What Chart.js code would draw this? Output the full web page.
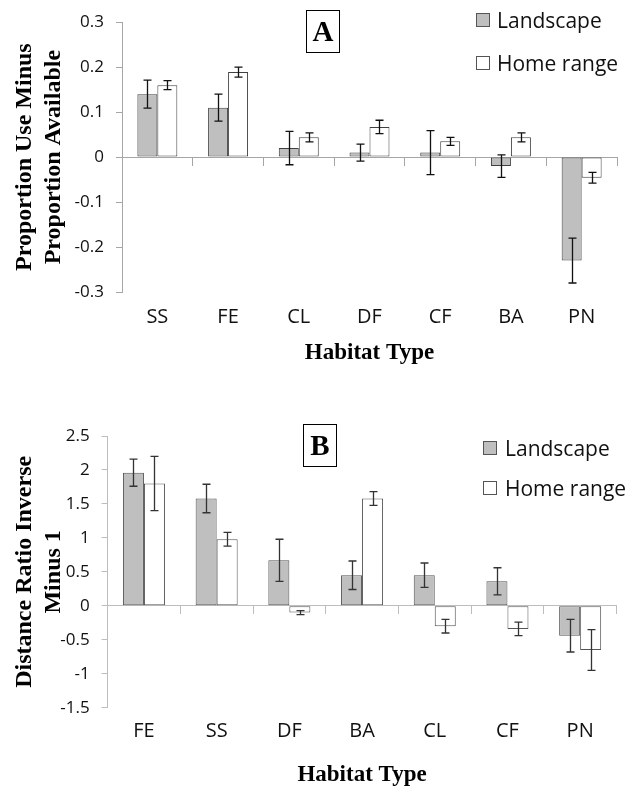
<!DOCTYPE html>
<html>
<head>
<meta charset="utf-8">
<script src="https://cdn.jsdelivr.net/npm/chart.js@4.4.1/dist/chart.umd.min.js"></script>
<style>
  body { margin: 0; background: #fff; }
  #page { position: relative; width: 631px; height: 789px; overflow: hidden; }
  canvas { position: absolute; left: 0; }
  .panel { position: absolute; box-sizing: border-box; width: 34px; height: 43px; border: 1.5px solid #000;
           font: bold 29px "Liberation Serif"; text-align: center; line-height: 40px; color: #000; }
  .sw { position: absolute; box-sizing: border-box; width: 14px; height: 14px; border: 1px solid #555; }
  .lt { position: absolute; font: 21px "Open Sans"; color: #111; line-height: 24px; white-space: nowrap; }
</style>
</head>
<body>
<div id="page">
  <canvas id="chartA" width="631" height="380" style="top:0"></canvas>
  <canvas id="chartB" width="631" height="409" style="top:380px"></canvas>
  <div class="panel" style="left:306px;top:10px">A</div>
  <div class="panel" style="left:303px;top:424px">B</div>
</div>
<script>
// Series names
const seriesNames = ["Landscape", "Home range"];

// Panel A
const categoriesA = ["SS", "FE", "CL", "DF", "CF", "BA", "PN"];
const landscapeA = [0.14, 0.11, 0.02, 0.01, 0.01, -0.02, -0.23];
const landscapeErrA = [0.031, 0.03, 0.037, 0.019, 0.049, 0.025, 0.05];
const homeRangeA = [0.16, 0.189, 0.044, 0.067, 0.035, 0.044, -0.046];
const homeRangeErrA = [0.01, 0.011, 0.01, 0.015, 0.009, 0.01, 0.012];
const yTicksA = [-0.3, -0.2, -0.1, 0, 0.1, 0.2, 0.3];
const yTickLabelsA = ["-0.3", "-0.2", "-0.1", "0", "0.1", "0.2", "0.3"];

// Panel B
const categoriesB = ["FE", "SS", "DF", "BA", "CL", "CF", "PN"];
const landscapeB = [1.96, 1.58, 0.67, 0.45, 0.45, 0.36, -0.44];
const landscapeErrB = [0.2, 0.21, 0.31, 0.21, 0.18, 0.2, 0.24];
const homeRangeB = [1.8, 0.98, -0.1, 1.58, -0.3, -0.34, -0.65];
const homeRangeErrB = [0.4, 0.1, 0.03, 0.1, 0.1, 0.1, 0.3];
const yTicksB = [-1.5, -1, -0.5, 0, 0.5, 1, 1.5, 2, 2.5];
const yTickLabelsB = ["-1.5", "-1", "-0.5", "0", "0.5", "1", "1.5", "2", "2.5"];

const fillColors = ["#bfbfbf", "#ffffff"];

// dibuja barras de error a partir de dataset.errors
const errorBars = {
  id: "errorBars",
  afterDatasetsDraw(chart, args, opts) {
    const ctx = chart.ctx;
    const y = chart.scales.y;
    ctx.save();
    ctx.strokeStyle = opts.color;
    ctx.lineWidth = opts.width;
    chart.data.datasets.forEach((ds, i) => {
      chart.getDatasetMeta(i).data.forEach((bar, j) => {
        const v = ds.data[j], e = ds.errors[j];
        const top = y.getPixelForValue(v + e);
        const bot = y.getPixelForValue(v - e);
        const x = Math.round(bar.x) + 0.5;
        ctx.beginPath();
        ctx.moveTo(x, top); ctx.lineTo(x, bot);
        ctx.moveTo(x - opts.cap, top); ctx.lineTo(x + opts.cap, top);
        ctx.moveTo(x - opts.cap, bot); ctx.lineTo(x + opts.cap, bot);
        ctx.stroke();
      });
    });
    ctx.restore();
  }
};

function makeChart(id, s) {
  return new Chart(document.getElementById(id), {
    type: "bar",
    plugins: [errorBars],
    data: {
      labels: s.categories,
      datasets: [
        { label: seriesNames[0], data: s.landscape, errors: s.landscapeErr, xAxisID: "x", yAxisID: "y",
          backgroundColor: fillColors[0], borderColor: s.barBorder, borderWidth: 1, borderSkipped: false },
        { label: seriesNames[1], data: s.homeRange, errors: s.homeRangeErr, xAxisID: "x", yAxisID: "y",
          backgroundColor: fillColors[1], borderColor: s.barBorder, borderWidth: 1, borderSkipped: false }
      ]
    },
    options: {
      responsive: false,
      animation: false,
      layout: { padding: { top: s.top, right: s.right, left: 0, bottom: 0 } },
      datasets: { bar: { barPercentage: 1, categoryPercentage: s.catPct } },
      plugins: {
        legend: { display: false },
        tooltip: { enabled: false },
        errorBars: { color: s.errColor, width: 1.3, cap: 4 }
      },
      scales: {
        x: {
          afterFit: sc => { sc.height = s.xHeight; },
          grid: { display: false, drawTicks: false },
          border: { display: false },
          ticks: { font: { family: "Open Sans", size: 20 }, color: "#111", padding: s.xPad },
          title: { display: true, text: "Habitat Type", color: "#000",
                   font: { family: "Liberation Serif", size: 23, weight: "bold" },
                   padding: { top: 0, bottom: s.xTitlePad } }
        },
        y: {
          min: s.yTicks[0],
          max: s.yTicks[s.yTicks.length - 1],
          afterBuildTicks: sc => { sc.ticks = s.yTicks.map(v => ({ value: v })); },
          afterFit: sc => { sc.width = s.left; },
          ticks: { callback: (v, i) => s.yLabels[i], font: { family: "Open Sans", size: 17 }, color: "#111", padding: 12 },
          grid: { drawOnChartArea: false, drawTicks: true, tickLength: 6, color: s.axisColor },
          border: { color: s.axisColor },
          title: { display: true, text: s.yTitle, color: "#000",
                   font: { family: "Liberation Serif", size: 24, weight: "bold", lineHeight: 29 / 24 },
                   padding: { top: 10.5, bottom: 0 } }
        },
        x2: {
          type: "category",
          position: { y: 0 },
          offset: true,
          z: 1,
          ticks: { display: false },
          grid: { offset: true, drawOnChartArea: false, drawTicks: true, tickLength: 8, color: s.axisColor },
          border: { display: true, color: s.axisColor }
        }
      }
    }
  });
}

makeChart("chartA", {
  categories: categoriesA, landscape: landscapeA, landscapeErr: landscapeErrA,
  homeRange: homeRangeA, homeRangeErr: homeRangeErrA,
  yTicks: yTicksA, yLabels: yTickLabelsA,
  yTitle: ["Proportion Use Minus", "Proportion Available"],
  top: 17, right: 14, left: 122, xHeight: 88, xPad: 13.7, xTitlePad: 13.5, catPct: 0.565,
  axisColor: "#a6a6a6", barBorder: "#404040", errColor: "#111"
});

makeChart("chartB", {
  categories: categoriesB, landscape: landscapeB, landscapeErr: landscapeErrB,
  homeRange: homeRangeB, homeRangeErr: homeRangeErrB,
  yTicks: yTicksB, yLabels: yTickLabelsB,
  yTitle: ["Distance Ratio Inverse", "Minus 1"],
  top: 56, right: 14.5, left: 107.6, xHeight: 81.3, xPad: 12, xTitlePad: 0.2, catPct: 0.578,
  axisColor: "#bdbdbd", barBorder: "#555", errColor: "#333"
});

// Leyendas
const page = document.getElementById("page");
function addLegend(swLeft, textLeft, centers) {
  seriesNames.forEach((name, i) => {
    const sw = document.createElement("div");
    sw.className = "sw";
    sw.style.left = swLeft + "px";
    sw.style.top = (centers[i] - 7) + "px";
    sw.style.background = fillColors[i];
    page.appendChild(sw);
    const t = document.createElement("div");
    t.className = "lt";
    t.style.left = textLeft + "px";
    t.style.top = (centers[i] - 12) + "px";
    t.textContent = name;
    page.appendChild(t);
  });
}
addLegend(476, 497, [19.5, 62.5]);
addLegend(483, 505, [447.5, 488]);
</script>
</body>
</html>
